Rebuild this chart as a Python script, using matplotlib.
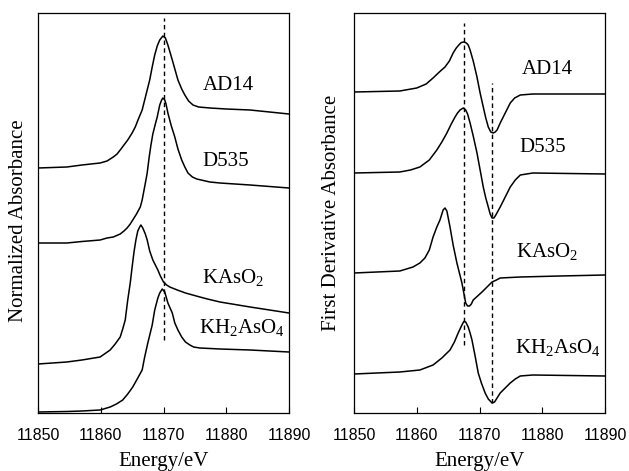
import matplotlib
matplotlib.use("Agg")
import matplotlib.pyplot as plt

plt.rcParams['mathtext.fontset'] = 'custom'
plt.rcParams['mathtext.rm'] = 'Liberation Serif'
plt.rcParams['mathtext.it'] = 'Liberation Serif:italic'

SERIF = ['Liberation Serif', 'DejaVu Serif']
SANS = ['Liberation Sans', 'DejaVu Sans']

# ---------------- data: normalized XANES (left panel, stacked, arbitrary units) ----------------
e_ad14 = [11850.0, 11854.6, 11857.0, 11859.9, 11861.0, 11862.0, 11862.6, 11863.1, 11863.7, 11864.3,
          11865.0, 11865.5, 11866.0, 11866.6, 11867.2, 11867.8, 11868.2, 11868.6, 11869.0, 11869.4,
          11869.9, 11870.3, 11870.7, 11871.4, 11872.3, 11872.9, 11873.4, 11874.0, 11874.7, 11875.6,
          11877.4, 11880.0, 11883.8, 11890.0]
a_ad14 = [245, 246, 248, 250, 252, 256, 259, 263, 268, 273,
          280, 286, 294, 303, 318, 333, 346, 358, 367, 373,
          377, 375, 368, 353, 333, 324, 318, 312, 308, 306,
          305, 304, 303, 299]

e_d535 = [11850.0, 11854.6, 11857.0, 11859.9, 11861.0, 11862.0, 11863.1, 11863.7, 11864.2, 11864.7,
          11865.1, 11865.7, 11866.3, 11866.6, 11866.9, 11867.2, 11867.4, 11867.7, 11868.0, 11868.3,
          11868.7, 11869.0, 11869.4, 11869.7, 11869.9, 11870.2, 11870.4, 11870.7, 11871.2, 11871.8,
          11872.3, 11872.9, 11873.4, 11873.9, 11874.6, 11875.3, 11877.4, 11879.0, 11883.8, 11890.0]
a_d535 = [170, 170, 171.5, 173, 175, 176, 179, 182, 185, 189,
          193, 199, 206, 213, 223, 233, 240, 255, 268, 279,
          289, 296, 308, 313, 315, 313, 309, 300, 288, 276,
          264, 253, 246, 240, 236, 234, 231, 230, 228, 225]

e_kaso2 = [11850.0, 11854.6, 11857.0, 11859.9, 11861.5, 11862.3, 11863.1, 11863.5, 11863.9, 11864.3,
           11864.7, 11865.0, 11865.3, 11865.6, 11865.9, 11866.2, 11866.4, 11866.7, 11867.1, 11867.4,
           11867.8, 11868.3, 11868.7, 11869.1, 11869.5, 11870.0, 11870.5, 11871.0, 11872.2, 11873.5,
           11875.8, 11877.0, 11879.0, 11883.8, 11890.0]
a_kaso2 = [49, 51, 53, 56, 63, 69, 76, 84, 93, 113,
           130, 146, 161, 173, 182, 186, 188, 185, 179, 173,
           162, 153, 148, 143, 137, 131, 128, 126, 123, 120,
           116, 114, 111, 106, 100]

e_kh2 = [11850.0, 11854.6, 11857.0, 11859.9, 11861.5, 11862.5, 11863.5, 11864.3, 11865.1, 11865.9,
         11866.6, 11867.0, 11867.5, 11868.2, 11868.6, 11869.1, 11869.4, 11869.8, 11870.2, 11870.7,
         11871.4, 11871.8, 11872.3, 11872.9, 11873.5, 11874.2, 11874.8, 11875.8, 11879.0, 11883.8,
         11890.0]
a_kh2 = [1, 1.5, 2, 3, 6, 9, 13, 19, 26, 35,
         43, 56, 70, 88, 103, 115, 120, 124, 121, 110,
         100, 90, 83, 76, 71, 68, 66, 65, 64, 63,
         61]

# ---------------- data: first derivative (right panel, stacked, arbitrary units) ----------------
ed_ad14 = [11850.0, 11857.3, 11860.0, 11861.5, 11862.6, 11863.6, 11864.5, 11865.2, 11865.8, 11866.3,
           11866.7, 11867.1, 11867.5, 11867.9, 11868.2, 11868.5, 11869.0, 11869.6, 11870.1, 11870.6,
           11871.0, 11871.4, 11871.8, 11872.2, 11872.5, 11872.8, 11873.3, 11874.1, 11874.9, 11875.6,
           11876.5, 11878.5, 11890.0]
d_ad14 = [321, 322, 325, 329, 335, 341, 346, 352, 360, 365,
          368, 370.5, 371, 370, 368, 363, 352, 336, 320, 306,
          295, 286, 281, 280, 281, 283, 290, 300, 310, 315,
          318, 319, 319]

ed_d535 = [11850.0, 11857.3, 11859.0, 11860.5, 11862.0, 11863.2, 11864.0, 11864.8, 11865.5, 11866.1,
           11866.5, 11866.9, 11867.4, 11867.8, 11868.1, 11868.5, 11869.0, 11869.6, 11870.1, 11870.6,
           11871.0, 11871.4, 11871.7, 11872.0, 11872.3, 11872.6, 11873.3, 11874.1, 11874.9, 11875.7,
           11876.5, 11878.5, 11890.0]
d_d535 = [240, 241, 243, 246, 253, 263, 271, 280, 289, 296,
          300, 303, 305, 303, 299, 290, 277, 260, 243, 226,
          215, 206, 199, 195, 195, 198, 206, 216, 226, 233,
          238, 240, 239]

ed_kaso2 = [11850.0, 11857.3, 11859.4, 11860.5, 11861.3, 11862.0, 11862.6, 11863.2, 11863.7, 11864.2,
            11864.5, 11864.8, 11865.3, 11865.8, 11866.4, 11866.8, 11867.2, 11867.5, 11867.8, 11868.1,
            11868.4, 11868.7, 11869.0, 11869.7, 11870.4, 11871.2, 11872.0, 11872.7, 11873.3, 11876.5,
            11882.8, 11890.0]
d_kaso2 = [140, 142, 146, 150, 155, 163, 176, 186, 193, 203,
           205, 202, 186, 168, 150, 140, 130, 120, 110, 107,
           107, 109, 113, 117, 121, 126, 131, 133, 135, 136,
           137, 138]

ed_kh2 = [11850.0, 11857.3, 11860.5, 11862.6, 11864.0, 11865.3, 11866.0, 11866.6, 11867.2, 11867.5,
          11867.8, 11868.2, 11868.5, 11868.8, 11869.3, 11869.8, 11870.3, 11870.9, 11871.4, 11872.0,
          11872.4, 11872.8, 11873.3, 11874.1, 11874.9, 11875.7, 11876.5, 11878.5, 11890.0]
d_kh2 = [39, 41, 43, 48, 55, 63, 71, 80, 88, 91.5,
         91, 86, 80, 73, 57, 40, 30, 20, 14, 10,
         11, 15, 20, 25, 30, 34, 37, 38, 37]

xticks = [11850, 11860, 11870, 11880, 11890]
xlim = (11850, 11890)
ylim = (0, 400)

left_labels = [('AD14', 11880.4, 327), ('D535', 11879.9, 251),
               ('KAsO$_2$', 11881.0, 136), ('KH$_2$AsO$_4$', 11882.4, 85)]
right_labels = [('AD14', 11880.8, 343), ('D535', 11880.1, 266),
                ('KAsO$_2$', 11880.8, 161), ('KH$_2$AsO$_4$', 11882.4, 66)]

# dashed reference lines: (energy, ymin, ymax)
left_dash = [(11870.0, 73, 395)]
right_dash = [(11867.5, 68, 390), (11872.0, 10, 330)]

W, H = 629, 471
fig = plt.figure(figsize=(W / 100, H / 100), dpi=100)
axL = fig.add_axes([38 / W, 58 / H, 251 / W, 400 / H])
axR = fig.add_axes([354 / W, 58 / H, 251 / W, 400 / H])

lw = 1.1
for e, a in [(e_ad14, a_ad14), (e_d535, a_d535), (e_kaso2, a_kaso2), (e_kh2, a_kh2)]:
    axL.plot(e, a, color='black', lw=lw, solid_joinstyle='round')
for e, a in [(ed_ad14, d_ad14), (ed_d535, d_d535), (ed_kaso2, d_kaso2), (ed_kh2, d_kh2)]:
    axR.plot(e, a, color='black', lw=lw, solid_joinstyle='round')

for ax, dashes in [(axL, left_dash), (axR, right_dash)]:
    for x, y0, y1 in dashes:
        ax.plot([x, x], [y0, y1], color='black', lw=1.0, linestyle=(0, (3.2, 2.4)))

for ax, labels in [(axL, left_labels), (axR, right_labels)]:
    for txt, x, y in labels:
        ax.text(x, y, txt, ha='center', va='center', fontsize=15, family=SERIF)

for ax, ylab, lx, ly in [(axL, 'Normalized Absorbance', -0.040, 0.48),
                         (axR, 'First Derivative Absorbance', -0.052, 0.5)]:
    ax.set_xlim(*xlim)
    ax.set_ylim(*ylim)
    ax.set_xticks(xticks)
    ax.set_xticklabels([str(t) for t in xticks], family=SANS, fontsize=11.5)
    ax.set_yticks([])
    ax.tick_params(axis='x', direction='in', length=4, width=0.8, pad=11, top=False)
    ax.set_xlabel('Energy/eV', family=SERIF, fontsize=15, labelpad=6)
    ax.set_ylabel(ylab, family=SERIF, fontsize=15)
    ax.yaxis.set_label_coords(lx, ly)
    for s in ax.spines.values():
        s.set_linewidth(0.9)

fig.savefig('out.png', dpi=100)
